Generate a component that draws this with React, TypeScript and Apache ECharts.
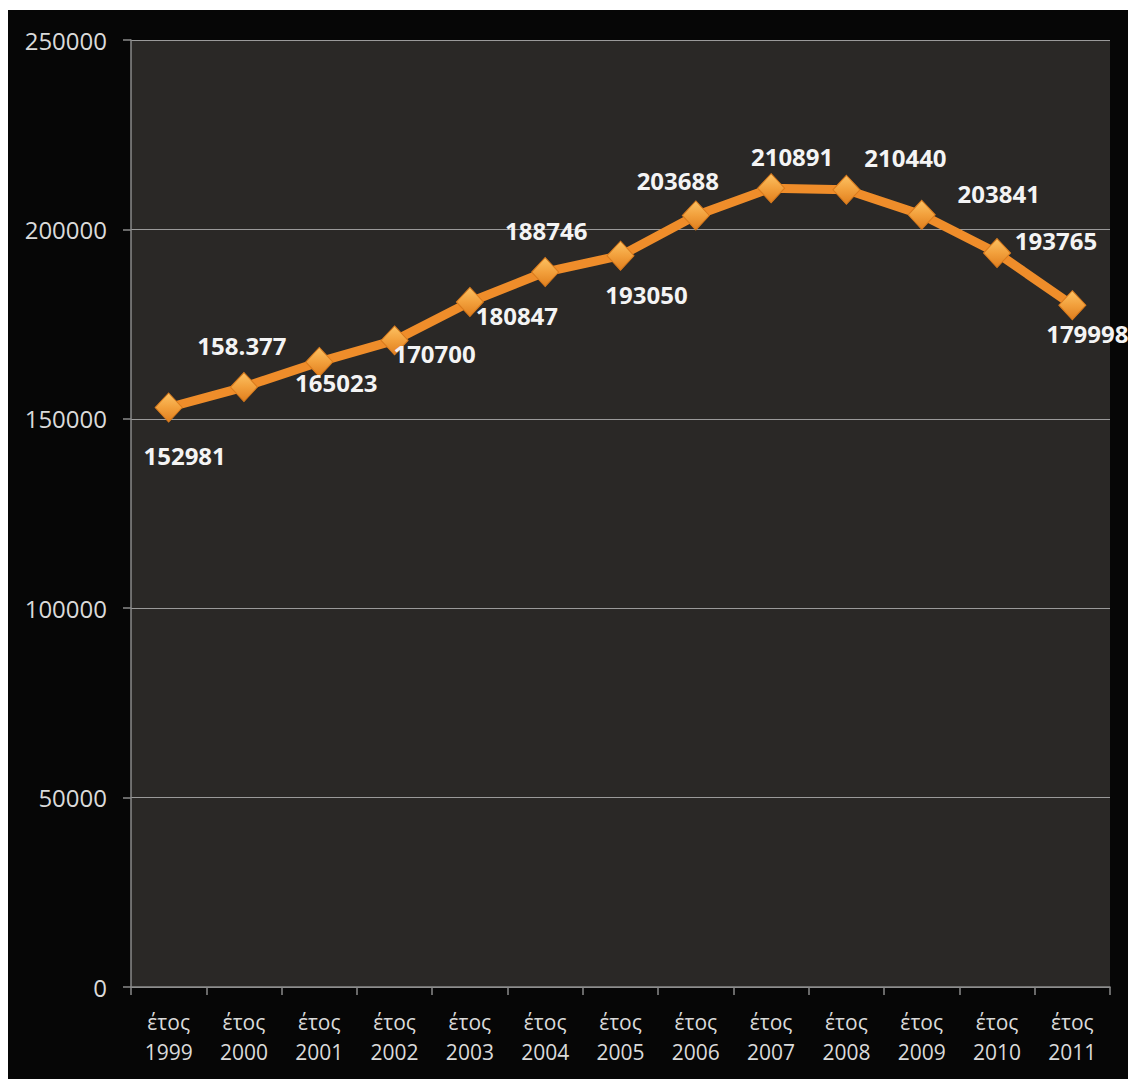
import React, { useEffect, useRef } from "react";
import * as echarts from "echarts";

const years = ["1999", "2000", "2001", "2002", "2003", "2004", "2005", "2006", "2007", "2008", "2009", "2010", "2011"];
const values = [152981, 158377, 165023, 170700, 180847, 188746, 193050, 203688, 210891, 210440, 203841, 193765, 179998];
const valueLabels = ["152981", "158.377", "165023", "170700", "180847", "188746", "193050", "203688", "210891", "210440", "203841", "193765", "179998"];
// label offsets (layout, px) relative to each point
const labelOffsets: [number, number][] = [
  [16, 48], [-2, -42], [17, 21], [40, 13], [47, 14], [1, -42], [26, 39],
  [-18, -35], [21, -32], [59, -32], [77, -21], [59, -13], [15, 28],
];

const FONT = "'Open Sans', 'Noto Sans', sans-serif";

export default function App() {
  const ref = useRef<HTMLDivElement>(null);
  useEffect(() => {
    document.documentElement.style.overflow = "hidden";
    const chart = echarts.init(ref.current!, null, { renderer: "svg" });
    chart.setOption({
      animation: false,
      backgroundColor: "#060606",
      textStyle: { fontFamily: FONT },
      grid: {
        left: 123,
        right: 18,
        top: 30,
        bottom: 92,
        show: true,
        backgroundColor: "#2a2826",
        borderWidth: 0,
      },
      xAxis: {
        type: "category",
        data: years,
        boundaryGap: true,
        axisLine: { show: true, lineStyle: { color: "#8a8a8a", width: 1.5 } },
        axisTick: { show: true, length: 8, alignWithLabel: false, lineStyle: { color: "#8a8a8a", width: 1.5 } },
        axisLabel: {
          color: "#dadada",
          fontSize: 21,
          fontFamily: FONT,
          lineHeight: 30,
          margin: 20,
          interval: 0,
          formatter: (v: string) => "έτος\n" + v,
        },
        splitLine: { show: false },
      },
      yAxis: {
        type: "value",
        min: 0,
        max: 250000,
        interval: 50000,
        axisLine: { show: true, lineStyle: { color: "#8a8a8a", width: 1.5 } },
        axisTick: { show: true, length: 8, lineStyle: { color: "#8a8a8a", width: 1.5 } },
        axisLabel: {
          color: "#dadada",
          fontSize: 24,
          fontFamily: FONT,
          margin: 24,
          formatter: (v: number) => String(v),
        },
        splitLine: { show: true, lineStyle: { color: "#9a9a9a", width: 1 } },
      },
      series: [
        {
          type: "line",
          data: values.map((v, i) => ({
            value: v,
            label: { offset: labelOffsets[i] },
          })),
          lineStyle: { color: "#ef8d2a", width: 9 },
          symbol: "diamond",
          symbolSize: [27, 29],
          itemStyle: {
            color: new echarts.graphic.LinearGradient(0, 0, 0, 1, [
              { offset: 0, color: "#fcc263" },
              { offset: 0.5, color: "#f2a03c" },
              { offset: 1, color: "#e07f1e" },
            ]),
            borderColor: "#d97a1c",
            borderWidth: 1,
          },
          label: {
            show: true,
            position: "inside",
            align: "center",
            verticalAlign: "middle",
            color: "#f4f4f4",
            fontSize: 24,
            fontWeight: "bold",
            fontFamily: FONT,
            formatter: (p: any) => valueLabels[p.dataIndex],
          },
          z: 3,
        },
      ],
    });
    return () => chart.dispose();
  }, []);
  return (
    <div
      ref={ref}
      style={{ position: "fixed", left: 8, top: 10, width: 1120, height: 1069 }}
    />
  );
}
